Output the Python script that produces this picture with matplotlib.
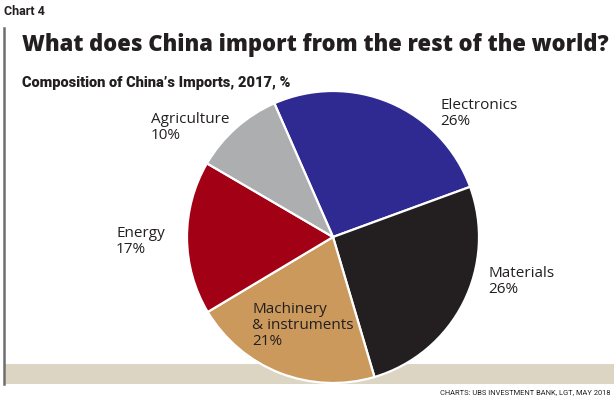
import matplotlib
matplotlib.use("Agg")
import matplotlib.pyplot as plt
from matplotlib.patches import Rectangle
from matplotlib.lines import Line2D

categories = ["Electronics", "Materials", "Machinery\n& instruments", "Energy", "Agriculture"]
values = [26, 26, 21, 17, 10]
colors = ["#2e2a91", "#231f20", "#cc995c", "#a10015", "#adaeb0"]
pct_labels = ["26%", "26%", "21%", "17%", "10%"]

W, H = 614, 399
fig = plt.figure(figsize=(W / 100, H / 100), dpi=100)
fig.patch.set_facecolor("white")

def fx(x):
    return x / W

def fy(y):
    return 1 - y / H

TXT = "#231f20"

# background band and left rule
fig.add_artist(Rectangle((fx(5), fy(384)), fx(W) - fx(5), (384 - 364) / H,
                         transform=fig.transFigure, facecolor="#ddd5c4", edgecolor="none", zorder=0))
fig.add_artist(Line2D([fx(4), fx(4)], [fy(28), fy(384)], transform=fig.transFigure,
                      color="#6d6e70", lw=1.8, zorder=1))

# pie axes: center (333, 237), radius ~146 px
cx, cy, r = 333, 237, 146
ax = fig.add_axes([fx(cx - r), fy(cy + r), 2 * r / W, 2 * r / H])
ax.set_zorder(2)
ax.pie(values, colors=colors, startangle=113.7, counterclock=False, radius=1,
       wedgeprops=dict(edgecolor="white", linewidth=1.6))
ax.set_xlim(-1.0, 1.0)
ax.set_ylim(-1.0, 1.0)
ax.set_aspect("equal")
ax.axis("off")
ax.patch.set_alpha(0)

renderer = fig.canvas.get_renderer()

def fit_text(x, y, s, target_w, size, **kw):
    t = fig.text(fx(x), fy(y), s, fontsize=size, **kw)
    w = t.get_window_extent(renderer).width
    if w > 0:
        t.set_fontsize(size * target_w / w)
    return t

fit_text(4, 15, "Chart 4", 41, 9, fontfamily="Roboto", fontweight="bold",
         color=TXT, va="baseline", ha="left")
fit_text(22, 51, "What does China import from the rest of the world?", 586, 19,
         fontfamily="Open Sans", fontweight="heavy", color=TXT, va="baseline", ha="left")
fit_text(22, 87, "Composition of China\u2019s Imports, 2017, %", 268, 10,
         fontfamily="Roboto", fontweight="heavy", color=TXT, va="baseline", ha="left")
fit_text(611, 394, "CHARTS: UBS INVESTMENT BANK, LGT, MAY 2018", 174, 6,
         fontfamily="Roboto", color=TXT, va="baseline", ha="right")

# labels: (x, baseline of first line)
label_pos = [(440, 109), (488, 277), (252, 313), (116, 237), (151, 123)]
lab_fs = 11
pitch = 15.8
for (x, y), name, pct in zip(label_pos, categories, pct_labels):
    lines = name.split("\n") + [pct]
    for i, ln in enumerate(lines):
        fig.text(fx(x), fy(y + i * pitch), ln, fontsize=lab_fs, fontfamily="Open Sans",
                 color=TXT, va="baseline", ha="left", zorder=5)

fig.savefig("out.png", dpi=100, facecolor="white")
